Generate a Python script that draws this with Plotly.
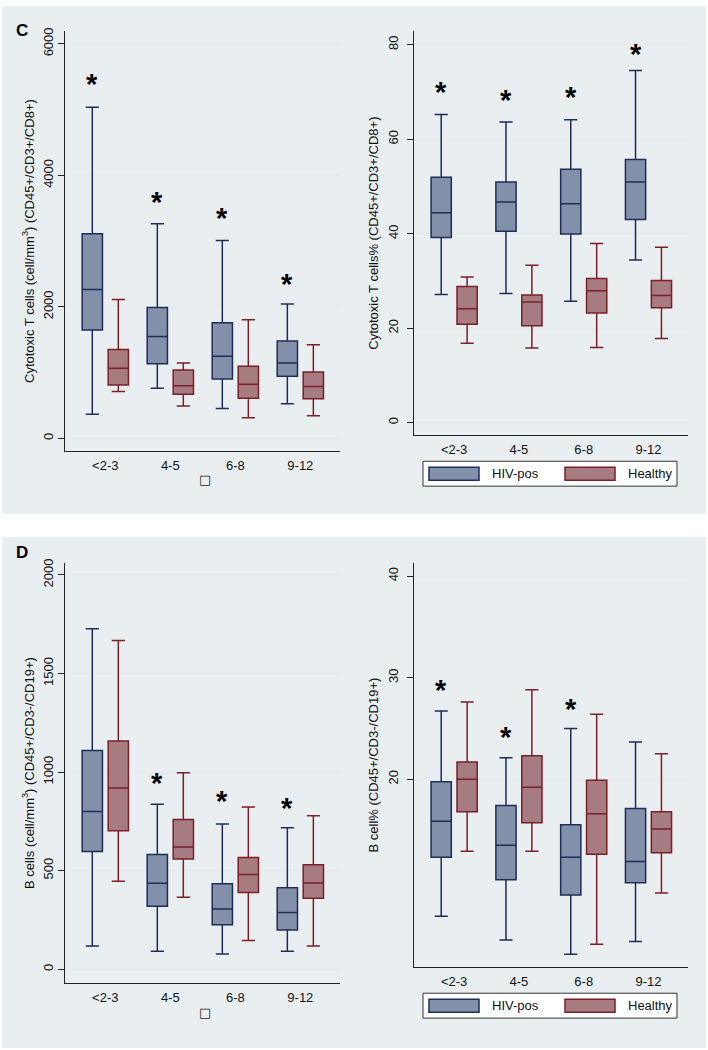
import plotly.graph_objects as go

# ---------------- data ----------------
age_groups = ["<2-3", "4-5", "6-8", "9-12"]
groups = ["HIV-pos", "Healthy"]

# Panel C left: Cytotoxic T cells (cell/mm3)
c_abs_hiv_low = [368, 762, 454, 525]
c_abs_hiv_q1 = [1647, 1136, 904, 944]
c_abs_hiv_med = [2262, 1550, 1247, 1147]
c_abs_hiv_q3 = [3110, 1989, 1757, 1480]
c_abs_hiv_up = [5034, 3262, 3010, 2045]
c_abs_hea_low = [712, 490, 313, 344]
c_abs_hea_q1 = [813, 672, 611, 601]
c_abs_hea_med = [1065, 798, 823, 788]
c_abs_hea_q3 = [1353, 1040, 1095, 1010]
c_abs_hea_up = [2111, 1147, 1803, 1424]
c_abs_star = [5378, 3575, 3333, 2338]

# Panel C right: Cytotoxic T cells %
c_pct_hiv_low = [27.1, 27.3, 25.7, 34.4]
c_pct_hiv_q1 = [39.2, 40.5, 39.9, 43.0]
c_pct_hiv_med = [44.4, 46.7, 46.3, 50.9]
c_pct_hiv_q3 = [51.9, 50.9, 53.6, 55.7]
c_pct_hiv_up = [65.2, 63.6, 64.1, 74.5]
c_pct_hea_low = [16.8, 15.8, 15.9, 17.8]
c_pct_hea_q1 = [20.8, 20.5, 23.2, 24.3]
c_pct_hea_med = [24.1, 25.5, 27.9, 26.9]
c_pct_hea_q3 = [28.8, 27.0, 30.5, 30.1]
c_pct_hea_up = [30.8, 33.3, 37.9, 37.1]
c_pct_star = [69.8, 68.1, 68.6, 77.9]

# Panel D left: B cells (cell/mm3)
d_abs_hiv_low = [118, 91, 77, 91]
d_abs_hiv_q1 = [597, 320, 226, 199]
d_abs_hiv_med = [800, 436, 305, 288]
d_abs_hiv_q3 = [1110, 582, 433, 413]
d_abs_hiv_up = [1727, 837, 737, 717]
d_abs_hea_low = [446, 365, 146, 118]
d_abs_hea_q1 = [702, 559, 389, 360]
d_abs_hea_med = [919, 620, 481, 438]
d_abs_hea_q3 = [1157, 759, 567, 530]
d_abs_hea_up = [1667, 996, 823, 779]
d_abs_star = [None, 942, 850, 811]

# Panel D right: B cell %
d_pct_hiv_low = [6.5, 4.15, 2.75, 4.0]
d_pct_hiv_q1 = [12.3, 10.1, 8.6, 9.8]
d_pct_hiv_med = [15.85, 13.5, 12.3, 11.9]
d_pct_hiv_q3 = [19.75, 17.4, 15.5, 17.1]
d_pct_hiv_up = [26.7, 22.1, 25.0, 23.65]
d_pct_hea_low = [12.9, 12.9, 3.75, 8.8]
d_pct_hea_q1 = [16.8, 15.7, 12.6, 12.75]
d_pct_hea_med = [20.0, 19.2, 16.6, 15.1]
d_pct_hea_q3 = [21.7, 22.3, 19.9, 16.8]
d_pct_hea_up = [27.6, 28.8, 26.4, 22.5]
d_pct_star = [28.7, 24.05, 26.8, None]

y_titles = [
    "Cytotoxic T cells (cell/mm<sup>3</sup>) (CD45+/CD3+/CD8+)",
    "Cytotoxic T cells% (CD45+/CD3+/CD8+)",
    "B cells (cell/mm<sup>3</sup>) (CD45+/CD3-/CD19+)",
    "B cell% (CD45+/CD3-/CD19+)",
]
y_ticks = [[0, 2000, 4000, 6000], [0, 20, 40, 60, 80], [0, 500, 1000, 1500, 2000], [20, 30, 40]]
y_ranges = [[-197, 6197], [-2.7, 82.9], [-71, 2061], [1.47, 41.3]]

# ---------------- style ----------------
W, H = 708, 1050
FONT = "Liberation Sans, Arial, sans-serif"
HIV_FILL, HIV_LINE = "#8290AA", "#1E2C58"
HEA_FILL, HEA_LINE = "#A67C80", "#7A1E28"
PANEL_BG = "#E9EEF1"
GRID = "#E4E9EC"

def px(x0, x1):
    return [x0 / W, x1 / W]

def py(top, bottom):
    return [1 - bottom / H, 1 - top / H]

dom = [
    (px(65, 340), py(27, 449)),
    (px(414, 688), py(27, 433)),
    (px(65, 340), py(561, 983)),
    (px(414, 688), py(561, 967)),
]
label_standoff = [0, 4, 0, 4]
title_standoff = [3, 4, 3, 4]

panels = [
    (c_abs_hiv_low, c_abs_hiv_q1, c_abs_hiv_med, c_abs_hiv_q3, c_abs_hiv_up,
     c_abs_hea_low, c_abs_hea_q1, c_abs_hea_med, c_abs_hea_q3, c_abs_hea_up, c_abs_star),
    (c_pct_hiv_low, c_pct_hiv_q1, c_pct_hiv_med, c_pct_hiv_q3, c_pct_hiv_up,
     c_pct_hea_low, c_pct_hea_q1, c_pct_hea_med, c_pct_hea_q3, c_pct_hea_up, c_pct_star),
    (d_abs_hiv_low, d_abs_hiv_q1, d_abs_hiv_med, d_abs_hiv_q3, d_abs_hiv_up,
     d_abs_hea_low, d_abs_hea_q1, d_abs_hea_med, d_abs_hea_q3, d_abs_hea_up, d_abs_star),
    (d_pct_hiv_low, d_pct_hiv_q1, d_pct_hiv_med, d_pct_hiv_q3, d_pct_hiv_up,
     d_pct_hea_low, d_pct_hea_q1, d_pct_hea_med, d_pct_hea_q3, d_pct_hea_up, d_pct_star),
]

fig = go.Figure()
annotations = []
shapes = []

# panel backgrounds
shapes.append(dict(type="rect", xref="paper", yref="paper", x0=2 / W, x1=706 / W,
                   y0=1 - 512 / H, y1=1 - 2 / H, fillcolor=PANEL_BG, line=dict(width=0), layer="below"))
shapes.append(dict(type="rect", xref="paper", yref="paper", x0=2 / W, x1=706 / W,
                   y0=1 - 1048 / H, y1=1 - 535 / H, fillcolor=PANEL_BG, line=dict(width=0), layer="below"))

BOX_OFFSET = 0.2

for k, p in enumerate(panels):
    xa = "x" if k == 0 else f"x{k+1}"
    ya = "y" if k == 0 else f"y{k+1}"
    (hl, hq1, hm, hq3, hu, el, eq1, em, eq3, eu, star) = p
    fig.add_trace(go.Box(
        x=age_groups, q1=hq1, median=hm, q3=hq3, lowerfence=hl, upperfence=hu,
        name=groups[0], fillcolor=HIV_FILL, line=dict(color=HIV_LINE, width=1.5),
        whiskerwidth=0.65, boxpoints=False, showlegend=False, xaxis=xa, yaxis=ya,
        offsetgroup="hiv", hoverinfo="skip"))
    fig.add_trace(go.Box(
        x=age_groups, q1=eq1, median=em, q3=eq3, lowerfence=el, upperfence=eu,
        name=groups[1], fillcolor=HEA_FILL, line=dict(color=HEA_LINE, width=1.5),
        whiskerwidth=0.65, boxpoints=False, showlegend=False, xaxis=xa, yaxis=ya,
        offsetgroup="hea", hoverinfo="skip"))
    for i, s in enumerate(star):
        if s is None:
            continue
        annotations.append(dict(x=i - BOX_OFFSET, y=s, xref=xa, yref=ya, text="<b>*</b>",
                                showarrow=False, font=dict(family=FONT, size=29, color="black"),
                                yanchor="middle", yshift=1))

    xd, yd = dom[k]
    axis_x = dict(domain=xd, anchor=ya, type="category", range=[-0.62, 3.61],
                  showline=True, linecolor="#222222", linewidth=1.2, mirror=False,
                  ticks="outside", ticklen=2, tickcolor="rgba(0,0,0,0)",
                  showgrid=False, zeroline=False,
                  tickfont=dict(family=FONT, size=13, color="#111111"))
    axis_y = dict(domain=yd, anchor=xa, range=y_ranges[k], tickvals=y_ticks[k],
                  ticktext=[str(v) for v in y_ticks[k]], tickangle=-90,
                  showline=True, linecolor="#222222", linewidth=1.2,
                  ticks="outside", ticklen=6, tickcolor="#222222", tickwidth=1,
                  ticklabelstandoff=label_standoff[k],
                  showgrid=True, gridcolor=GRID, gridwidth=1, zeroline=False,
                  tickfont=dict(family=FONT, size=13, color="#111111"),
                  title=dict(text=y_titles[k], font=dict(family=FONT, size=13, color="#111111"),
                             standoff=title_standoff[k]))
    fig.update_layout({("xaxis" if k == 0 else f"xaxis{k+1}"): axis_x,
                       ("yaxis" if k == 0 else f"yaxis{k+1}"): axis_y})

# panel letters
annotations.append(dict(x=14 / W, y=1 - 15 / H, xref="paper", yref="paper", text="<b>C</b>",
                        showarrow=False, font=dict(family=FONT, size=17, color="black")))
annotations.append(dict(x=14 / W, y=1 - 551 / H, xref="paper", yref="paper", text="<b>D</b>",
                        showarrow=False, font=dict(family=FONT, size=17, color="black")))

# small square placeholder under left x-axes (empty x-axis title glyph)
for yy in (477, 1012):
    annotations.append(dict(x=197 / W, y=1 - yy / H, xref="paper", yref="paper", text="□",
                            showarrow=False, yanchor="middle",
                            font=dict(family="DejaVu Sans", size=13, color="#222222")))

# legends (drawn boxes)
for top in (459, 993):
    bot = top + 25
    shapes.append(dict(type="rect", xref="paper", yref="paper", x0=423 / W, x1=677 / W,
                       y0=1 - bot / H, y1=1 - top / H, fillcolor="white",
                       line=dict(color="#333333", width=1)))
    shapes.append(dict(type="rect", xref="paper", yref="paper", x0=429 / W, x1=479 / W,
                       y0=1 - (top + 19) / H, y1=1 - (top + 6) / H, fillcolor=HIV_FILL,
                       line=dict(color=HIV_LINE, width=1.5)))
    shapes.append(dict(type="rect", xref="paper", yref="paper", x0=565 / W, x1=615 / W,
                       y0=1 - (top + 19) / H, y1=1 - (top + 6) / H, fillcolor=HEA_FILL,
                       line=dict(color=HEA_LINE, width=1.5)))
    annotations.append(dict(x=490 / W, y=1 - (top + 12.5) / H, xref="paper", yref="paper",
                            text=groups[0], showarrow=False, xanchor="left", yanchor="middle",
                            font=dict(family=FONT, size=13, color="#111111")))
    annotations.append(dict(x=626 / W, y=1 - (top + 12.5) / H, xref="paper", yref="paper",
                            text=groups[1], showarrow=False, xanchor="left", yanchor="middle",
                            font=dict(family=FONT, size=13, color="#111111")))

fig.update_layout(
    width=W, height=H, margin=dict(l=0, r=0, t=0, b=0),
    paper_bgcolor="white", plot_bgcolor="white",
    boxmode="group", boxgap=0.2, boxgroupgap=0.22,
    showlegend=False, shapes=shapes, annotations=annotations,
    font=dict(family=FONT, size=13, color="#111111"),
)

fig.write_html("out.html", config={"displayModeBar": False},
               post_script="document.body.style.margin='0';document.body.style.padding='0';")
